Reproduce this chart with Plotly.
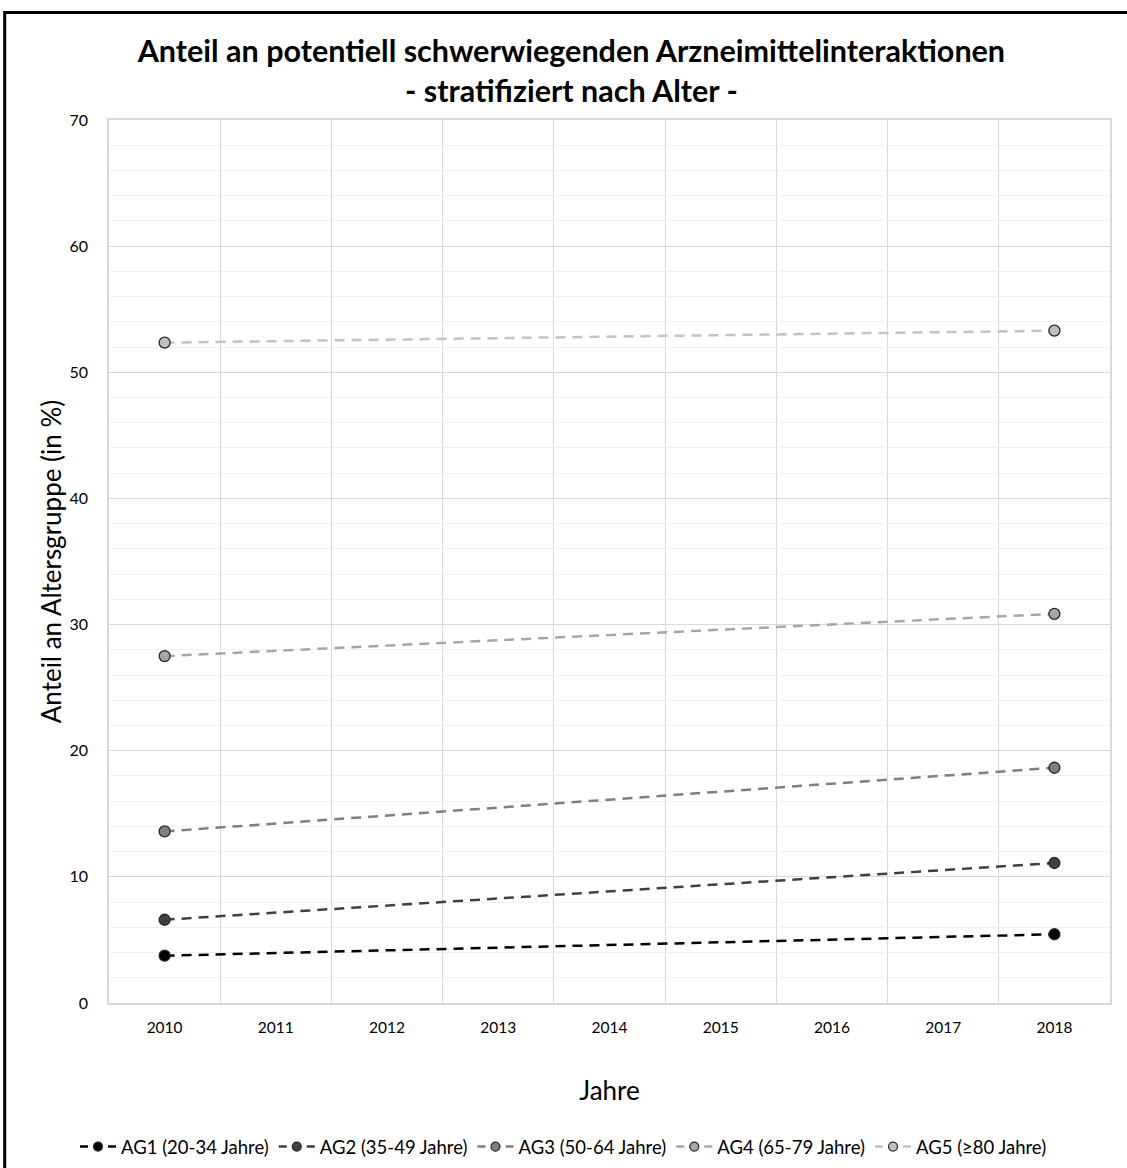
import plotly.graph_objects as go

# Jahre und Anteile (in %) je Altersgruppe
years = [2010, 2018]
all_years = list(range(2010, 2019))
ag1 = [3.75, 5.45]
ag2 = [6.6, 11.1]
ag3 = [13.6, 18.65]
ag4 = [27.5, 30.85]
ag5 = [52.35, 53.3]

names = ["AG1 (20-34 Jahre)", "AG2 (35-49 Jahre)", "AG3 (50-64 Jahre)",
         "AG4 (65-79 Jahre)", "AG5 (≥80 Jahre)"]
series = [ag1, ag2, ag3, ag4, ag5]
line_colors = ["#000000", "#404040", "#7f7f7f", "#a6a6a6", "#c3c3c3"]
fill_colors = ["#000000", "#404040", "#7f7f7f", "#a6a6a6", "#bfbfbf"]

FONT = "Lato, 'Open Sans', sans-serif"

fig = go.Figure()
for name, vals, lc, fc in zip(names, series, line_colors, fill_colors):
    # data series
    fig.add_trace(go.Scatter(
        x=years, y=vals, name=name, mode="lines+markers", legendgroup=name,
        showlegend=False,
        line=dict(color=lc, width=2.5, dash="10px,7px"),
        marker=dict(size=11, color=fc, line=dict(color="#262626", width=1.3)),
    ))
    # legend key: short dash on each side of a small marker
    fig.add_trace(go.Scatter(
        x=[None], y=[None], name=name, mode="lines+markers", legendgroup=name,
        line=dict(color=lc, width=2.5, dash="8px,20px,8px"),
        marker=dict(size=9, color=fc, line=dict(color="#262626", width=1.2)),
    ))

# Plot margins in pixels (used to place the outer frame)
ML, MR, MT, MB = 109, 17, 120, 165
W, H = 1127, 1168
pw, ph = W - ML - MR, H - MT - MB

def px_x(p):
    return (p - ML) / pw

def px_y(p):
    return (H - MB - p) / ph

fig.add_shape(type="rect", xref="paper", yref="paper",
              x0=px_x(4.7), x1=px_x(1140), y0=px_y(12.5), y1=px_y(1185),
              line=dict(color="#000000", width=3), fillcolor="rgba(0,0,0,0)",
              layer="above")

fig.update_layout(
    width=W, height=H,
    margin=dict(l=ML, r=MR, t=MT, b=MB),
    paper_bgcolor="white", plot_bgcolor="white",
    font=dict(family=FONT, color="#000000"),
    title=dict(
        text="<b>Anteil an potentiell schwerwiegenden Arzneimittelinteraktionen<br>- stratifiziert nach Alter -</b>",
        x=0.507, xanchor="center", xref="container",
        y=1 - 62 / H, yanchor="middle", yref="container",
        font=dict(size=30.5, family=FONT, color="#000000"),
    ),
    xaxis=dict(
        range=[2009.5, 2018.5],
        tickmode="array", tickvals=all_years, ticktext=[str(y) for y in all_years],
        showgrid=False, zeroline=False,
        showline=True, linecolor="#d9d9d9", linewidth=1.5, mirror=True,
        ticks="", ticklabelstandoff=10,
        tickfont=dict(size=15.5, family=FONT, color="#000000"),
        minor=dict(tickvals=[y - 0.5 for y in all_years] + [2018.5],
                   showgrid=True, gridcolor="#d9d9d9", gridwidth=1.3, ticks=""),
        title=dict(text="Jahre", font=dict(size=26, family=FONT, color="#000000"),
                   standoff=46),
    ),
    yaxis=dict(
        range=[0, 70], tickmode="linear", tick0=0, dtick=10,
        showgrid=True, gridcolor="#d9d9d9", gridwidth=1.3,
        zeroline=False,
        showline=True, linecolor="#d9d9d9", linewidth=1.5, mirror=True,
        ticks="", ticklabelstandoff=16,
        tickfont=dict(size=16, family=FONT, color="#000000"),
        minor=dict(tick0=0, dtick=2, showgrid=True, gridcolor="#f0f0f0",
                   gridwidth=1, ticks=""),
        title=dict(text="Anteil an Altersgruppe (in %)",
                   font=dict(size=26, family=FONT, color="#000000"),
                   standoff=0),
    ),
    legend=dict(
        orientation="h", x=0.5, xanchor="center", xref="container",
        y=1 - 1147 / H, yanchor="middle", yref="container",
        font=dict(size=18.5, family=FONT, color="#000000"),
        itemwidth=36, tracegroupgap=0,
    ),
    showlegend=True,
)

fig.write_html("out.html")
